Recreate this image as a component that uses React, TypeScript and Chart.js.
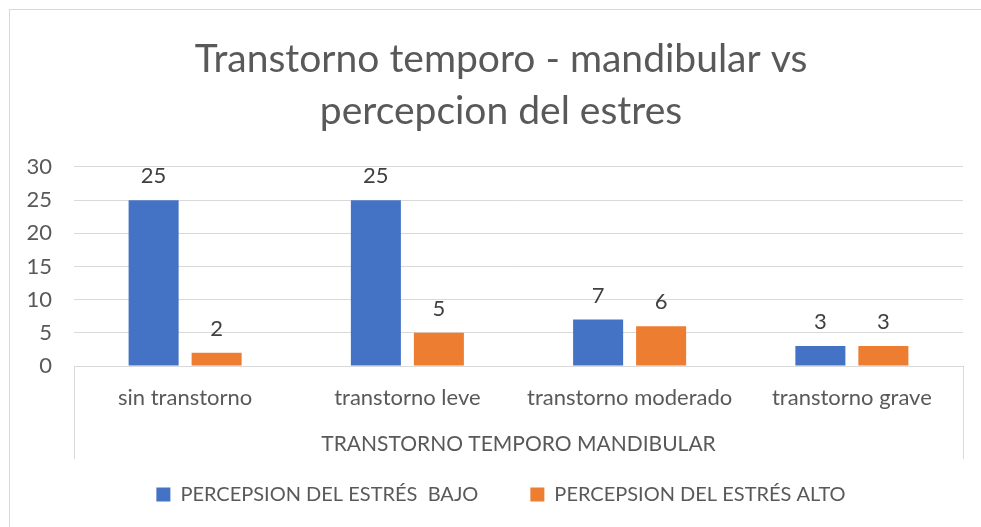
import React, { useEffect, useRef } from 'react';
import { Chart, registerables } from 'chart.js';

Chart.register(...registerables);

const categories = ['sin transtorno', 'transtorno leve', 'transtorno moderado', 'transtorno grave'];
const bajoValues = [25, 25, 7, 3];
const altoValues = [2, 5, 6, 3];
const seriesNames = ['PERCEPSION DEL ESTRÉS  BAJO', 'PERCEPSION DEL ESTRÉS ALTO'];
const titleLines = ['Transtorno temporo - mandibular vs', 'percepcion del estres'];
const xAxisTitle = 'TRANSTORNO TEMPORO MANDIBULAR';
const yMin = 0;
const yMax = 30;
const yStep = 5;

const FONT = 'Lato, "Open Sans", "Noto Sans", sans-serif';
const TEXT = '#595959';
const GRID = '#D9D9D9';
const BLUE = '#4472C4';
const ORANGE = '#ED7D31';

const dataLabelPlugin = {
  id: 'dataLabels',
  afterDatasetsDraw(chart: any) {
    const ctx = chart.ctx;
    ctx.save();
    ctx.font = `22px ${FONT}`;
    ctx.fillStyle = '#404040';
    ctx.textAlign = 'center';
    ctx.textBaseline = 'alphabetic';
    chart.data.datasets.forEach((ds: any, i: number) => {
      const meta = chart.getDatasetMeta(i);
      meta.data.forEach((el: any, j: number) => {
        ctx.fillText(String(ds.data[j]), el.x, el.y - 17);
      });
    });
    ctx.restore();
  },
};

const categoryFramePlugin = {
  id: 'categoryFrame',
  afterDraw(chart: any) {
    const ctx = chart.ctx;
    const { left, right, bottom } = chart.chartArea;
    ctx.save();
    ctx.strokeStyle = GRID;
    ctx.lineWidth = 1;
    ctx.beginPath();
    [left, right].forEach((x: number) => {
      const px = Math.round(x) + 0.5;
      ctx.moveTo(px, bottom);
      ctx.lineTo(px, bottom + 93);
    });
    ctx.stroke();
    ctx.restore();
  },
};

export default function App() {
  const canvasRef = useRef<HTMLCanvasElement | null>(null);

  useEffect(() => {
    document.body.style.margin = '0';
    document.body.style.overflow = 'hidden';
    const canvas = canvasRef.current;
    if (!canvas) return;
    const chart = new Chart(canvas, {
      type: 'bar',
      data: {
        labels: categories,
        datasets: [
          {
            label: seriesNames[0],
            data: bajoValues,
            backgroundColor: BLUE,
            categoryPercentage: 0.567,
            barPercentage: 0.794,
          },
          {
            label: seriesNames[1],
            data: altoValues,
            backgroundColor: ORANGE,
            categoryPercentage: 0.567,
            barPercentage: 0.794,
          },
        ],
      },
      options: {
        animation: false,
        responsive: true,
        maintainAspectRatio: false,
        layout: { padding: { left: 22, right: 1, top: 0, bottom: 12.5 } },
        plugins: {
          title: {
            display: true,
            text: titleLines,
            color: TEXT,
            font: { family: FONT, size: 39, weight: 'normal', lineHeight: 1.333 },
            padding: { top: 33.5, bottom: 29.5 },
          },
          legend: {
            display: true,
            position: 'bottom',
            labels: {
              color: TEXT,
              font: { family: FONT, size: 20 },
              boxWidth: 14,
              boxHeight: 14,
              padding: 52,
            },
          },
          tooltip: { enabled: false },
        },
        scales: {
          x: {
            grid: { display: false, drawTicks: false },
            border: { display: true, color: GRID },
            ticks: { color: TEXT, font: { family: FONT, size: 22 }, padding: 19 },
            title: {
              display: true,
              text: xAxisTitle,
              color: TEXT,
              font: { family: FONT, size: 21 },
              padding: { top: 0, bottom: -24.5 },
            },
            afterFit: (s: any) => {
              s.height = 66.5;
            },
          },
          y: {
            min: yMin,
            max: yMax,
            ticks: { stepSize: yStep, color: TEXT, font: { family: FONT, size: 22 }, padding: 22 },
            grid: { color: GRID, drawTicks: false },
            border: { display: false },
            afterFit: (s: any) => {
              s.width = 52;
            },
          },
          yRight: {
            position: 'right',
            display: true,
            ticks: { display: false },
            grid: { display: false, drawTicks: false },
            border: { display: false },
            afterFit: (s: any) => {
              s.width = 17;
            },
          },
        },
      } as any,
      plugins: [dataLabelPlugin, categoryFramePlugin],
    });
    return () => chart.destroy();
  }, []);

  return (
    <div style={{ position: 'relative', width: 981, height: 527, overflow: 'hidden', background: '#fff' }}>
      <div
        style={{
          position: 'absolute',
          left: 9,
          top: 9,
          width: 1100,
          height: 700,
          borderLeft: `1px solid ${GRID}`,
          borderTop: `1px solid ${GRID}`,
          pointerEvents: 'none',
        }}
      />
      <div style={{ position: 'absolute', left: 0, top: 0, width: 981, height: 527 }}>
        <canvas ref={canvasRef} />
      </div>
    </div>
  );
}
